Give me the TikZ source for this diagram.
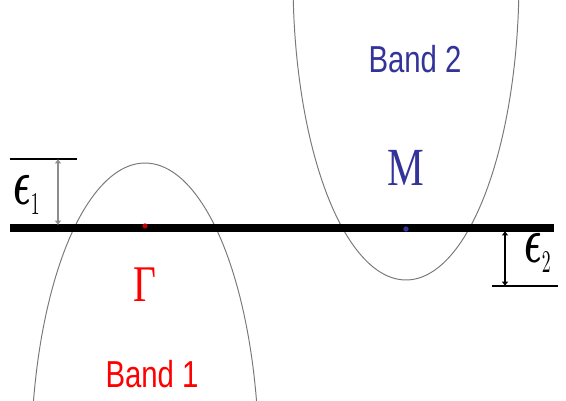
\documentclass[tikz,border=0pt]{standalone}
\usepackage{fontspec}
\usepackage{bm}
\usetikzlibrary{arrows.meta}
\newfontfamily\bandfont{Liberation Sans}
\newfontfamily\pointfont{Liberation Serif}
\definecolor{bandblue}{RGB}{51,51,153}
\definecolor{bandgray}{RGB}{120,120,120}
\tikzset{
  band/.style={draw=bandgray, line width=0.55pt},
  gap/.style={line width=1.1pt, {Latex[length=2.5pt,width=4pt]}-{Latex[length=2.5pt,width=4pt]}},
  dot/.style={circle, inner sep=0pt, minimum size=3pt},
}
\newcommand{\tall}[2][1.3]{\scalebox{1}[#1]{#2}}

\begin{document}
\begin{tikzpicture}[x=0.02cm, y=-0.02cm]
\useasboundingbox (0,0) rectangle (566,400);
\clip (0,0) rectangle (566,400);
% the two bands
\draw[band] plot[domain=8:172, samples=90, variable=\t] ({145+114*cos(\t)}, {463-300*sin(\t)});
\draw[band] plot[domain=182:358, samples=90, variable=\t] ({406+113*cos(\t)}, {-20-300*sin(\t)});
% fermi level
\coordinate (fermiL) at (10,228);
\coordinate (fermiR) at (554,228);
\draw[line width=4pt] (fermiL) -- (fermiR);
% epsilon 1
\coordinate (topL) at (10,159);
\coordinate (topR) at (77,159);
\draw[line width=1.1pt] (topL) -- (topR);
\coordinate (e1a) at (58,159);
\coordinate (e1b) at (58,225);
\draw[gap, draw=black!45] (e1a) -- (e1b);
\node (eps1) at (27,195) {\tall[1.8]{\fontsize{20}{20}\selectfont$\bm{\epsilon}_{\scriptscriptstyle 1}$}};
% epsilon 2
\coordinate (botL) at (492,286);
\coordinate (botR) at (558,286);
\draw[line width=1.1pt] (botL) -- (botR);
\coordinate (e2a) at (505,231);
\coordinate (e2b) at (505,286);
\draw[gap] (e2a) -- (e2b);
\node (eps2) at (538,253) {\tall[1.8]{\fontsize{20}{20}\selectfont$\bm{\epsilon}_{\scriptscriptstyle 2}$}};
% points and labels
\node[dot, fill=red!75!black] (gdot) at (145,226) {};
\node[dot, fill=bandblue] (mdot) at (406,229) {};
\node[text=red] (gamma) at (145,285) {\tall{\pointfont\fontsize{22.5}{23}\selectfont Γ}};
\node[text=bandblue] (mpt) at (406,168) {\tall{\pointfont\fontsize{23.5}{24}\selectfont M}};
\node[text=red] (band1) at (152,374) {\tall[1.28]{\bandfont\fontsize{16.7}{17}\selectfont Band 1}};
\node[text=bandblue] (band2) at (415,59) {\tall[1.28]{\bandfont\fontsize{16.7}{17}\selectfont Band 2}};
\end{tikzpicture}
\end{document}
